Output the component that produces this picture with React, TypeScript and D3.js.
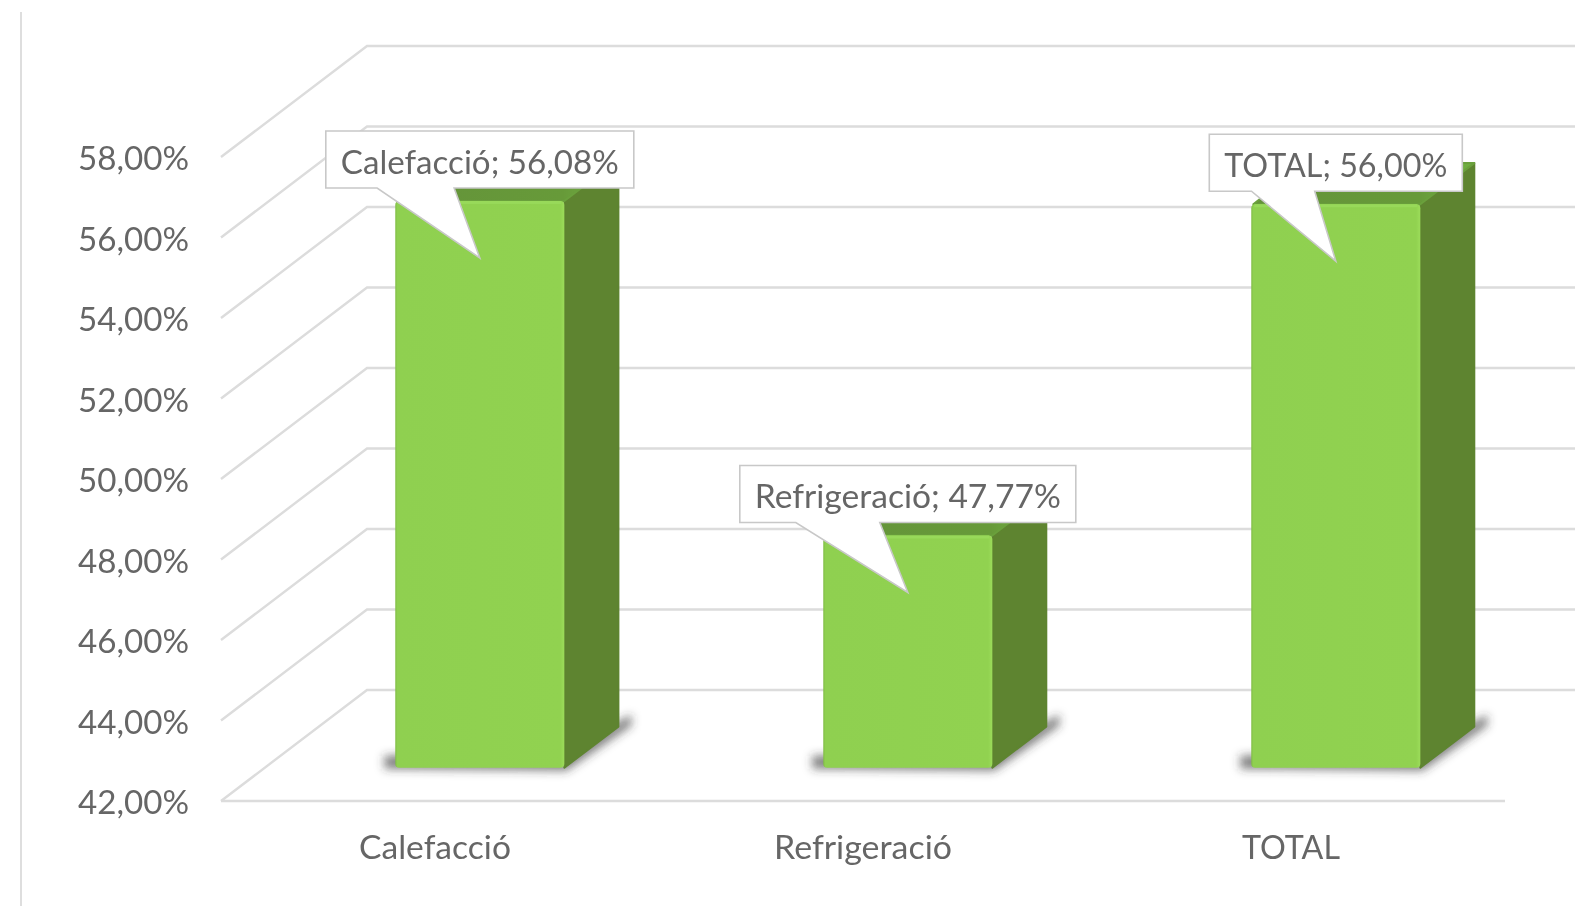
import React from "react";
import * as d3 from "d3";

const categories = ["Calefacció", "Refrigeració", "TOTAL"];
const values = [56.08, 47.77, 56.0];
const valueLabels = ["56,08%", "47,77%", "56,00%"];
const ticks = [42, 44, 46, 48, 50, 52, 54, 56, 58];
const tickLabels = ["42,00%", "44,00%", "46,00%", "48,00%", "50,00%", "52,00%", "54,00%", "56,00%", "58,00%"];

const W = 1575, H = 906;
const FONT = "Lato, 'Open Sans', sans-serif";
const FS = 33;
const SQUEEZE = 1.005;
const CATEGORY_TEXT_W = [152, 178, 98];
const CALLOUT_TEXT_W = [278, 306, 223];
const TEXT = "#666666";
const GRID = "#dcdcdc";

const y = d3.scaleLinear().domain([42, 58]).range([801, 157]);
const x = d3.scaleBand<string>().domain(categories).range([221, 1505]).paddingInner(0.605).paddingOuter(0.3025);
const DX = 146, DY = -111;
const Z0 = 0.3, Z1 = 0.67;
const NUDGE = 1;
const proj = (px: number, v: number, z: number): [number, number] => [px + z * DX + NUDGE, y(v) + z * DY];
const poly = (pts: [number, number][]) => pts.map((p) => p.map((n) => n.toFixed(1)).join(",")).join(" ");

function measure(t: string) {
  const c = document.createElement("canvas").getContext("2d")!;
  c.font = `${FS}px Lato`;
  return c.measureText(t).width * SQUEEZE;
}

function Txt(p: { x: number; y: number; t: string; anchor?: string; w?: number }) {
  return (
    <text x={p.x} y={p.y} textAnchor={p.anchor as any} fontFamily={FONT} fontSize={FS} fill={TEXT}
      textLength={p.w ?? measure(p.t)} lengthAdjust="spacingAndGlyphs">{p.t}</text>
  );
}

export default function App() {
  return (
    <svg width={W} height={H} viewBox={`0 0 ${W} ${H}`}
      style={{ position: "absolute", left: 0, top: 0, filter: "blur(0.55px)", background: "#fff" }}>
      <defs>
        <filter id="sh" x="-30%" y="-30%" width="160%" height="160%"><feGaussianBlur stdDeviation="5" /></filter>
        <linearGradient id="top" x1="0" x2="1" y1="0" y2="0">
          <stop offset="0" stopColor="#64933a" /><stop offset="0.75" stopColor="#679a39" /><stop offset="0.9" stopColor="#70ab42" /><stop offset="1" stopColor="#6fae41" />
        </linearGradient>
        <linearGradient id="front" x1="0" x2="1" y1="0" y2="0">
          <stop offset="0" stopColor="#7fbb45" /><stop offset="0.012" stopColor="#8fd050" /><stop offset="0.975" stopColor="#91d250" /><stop offset="1" stopColor="#9cdc5a" />
        </linearGradient>
      </defs>

      <line x1={21} x2={21} y1={12} y2={H} stroke="#dedede" strokeWidth={2} />

      {ticks.map((t) => {
        const by = y(t) + DY, bx = 221 + DX;
        return (
          <g key={t} fill="none" stroke={GRID} strokeWidth={2.4}>
            <path d={`M221,${y(t)}L${bx},${by}L${W + 10},${by}`} />
          </g>
        );
      })}
      <line x1={221} x2={1505} y1={y(42)} y2={y(42)} stroke={GRID} strokeWidth={2.4} />

      {tickLabels.map((l, i) => (
        <Txt key={l} x={189} y={y(ticks[i]) + 13} t={l} anchor="end" />
      ))}

      {categories.map((c, i) => (
        <Txt key={c} x={x(c)! + x.bandwidth() / 2} y={859} t={c} anchor="middle" w={CATEGORY_TEXT_W[i]} />
      ))}

      {categories.map((c, i) => {
        const x0 = x(c)!, x1 = x0 + x.bandwidth(), v = values[i];
        const [fl, fb] = proj(x0, 42, Z0);
        const [fr] = proj(x1, 42, Z0);
        const [, ft] = proj(x0, v, Z0);
        const [br, bb] = proj(x1, 42, Z1);
        const [btl, bt] = proj(x0, v, Z1);
        const [btr] = proj(x1, v, Z1);
        return (
          <g key={c}>
            <polygon filter="url(#sh)" fill="#333" fillOpacity={0.62}
              points={poly([[fl - 11, fb - 12], [fl - 11, fb + 1], [fr + 2, fb + 3], [br + 13, bb - 1], [br + 13, bb - 12], [fr, fb - 16]])} />
            <polygon fill="#5e8430" stroke="#5e8430" strokeWidth={2} strokeLinejoin="round"
              points={poly([[fr, ft], [btr, bt], [br, bb], [fr, fb]])} />
            <polygon fill="url(#top)" stroke="#6aa03c" strokeWidth={2} strokeLinejoin="round"
              points={poly([[fl + 2, ft], [btl, bt], [btr, bt], [fr, ft]])} />
            <rect x={fl} y={ft} width={fr - fl} height={fb - ft} rx={4} fill="url(#front)" />
            <rect x={fl + 3} y={ft} width={fr - fl - 6} height={3} fill="#98d95a" />
          </g>
        );
      })}

      {categories.map((c, i) => {
        const label = `${c}; ${valueLabels[i]}`;
        const [, ft] = proj(0, values[i], Z0);
        const cx = x(c)! + Z0 * DX + NUDGE + x.bandwidth() / 2;
        const tw = CALLOUT_TEXT_W[i];
        const w = tw + 30, h = 57;
        const l = cx - w / 2, t = ft - 70;
        const b = t + h;
        const d = `M${l},${t}H${l + w}V${b}H${l + (w * 5) / 12}L${cx},${ft + 57}L${l + w / 6},${b}H${l}Z`;
        return (
          <g key={c}>
            <path d={d} fill="#fff" stroke="#c8c8c8" strokeWidth={1.6} />
            <Txt x={cx} y={t + 43} t={label} anchor="middle" w={tw} />
          </g>
        );
      })}
    </svg>
  );
}
